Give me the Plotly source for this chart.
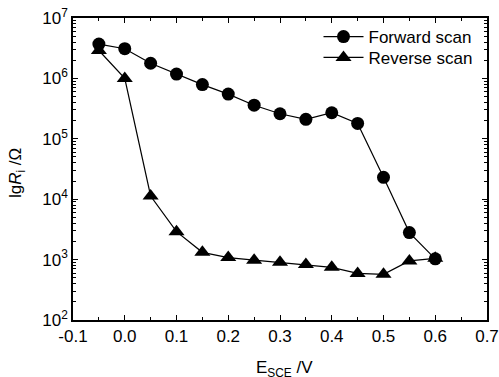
import plotly.graph_objects as go

# Electrode potential vs SCE (V)
potential = [-0.05, 0.0, 0.05, 0.10, 0.15, 0.20, 0.25, 0.30, 0.35, 0.40, 0.45, 0.50, 0.55, 0.60]

# Interfacial resistance (ohm) for the two scan directions
forward_r = [3.7e6, 3.1e6, 1.78e6, 1.18e6, 7.9e5, 5.5e5, 3.6e5, 2.6e5, 2.1e5, 2.7e5, 1.8e5, 2.3e4, 2.8e3, 1.03e3]
reverse_r = [2.9e6, 1.0e6, 1.13e4, 2.9e3, 1.32e3, 1.08e3, 980, 900, 830, 745, 590, 570, 950, 1.05e3]

x_ticks = [-0.1, 0.0, 0.1, 0.2, 0.3, 0.4, 0.5, 0.6, 0.7]
x_tick_text = ["-0.1", "0.0", "0.1", "0.2", "0.3", "0.4", "0.5", "0.6", "0.7"]
y_ticks = [1e2, 1e3, 1e4, 1e5, 1e6, 1e7]
y_tick_text = ["10<sup>2</sup>", "10<sup>3</sup>", "10<sup>4</sup>",
               "10<sup>5</sup>", "10<sup>6</sup>", "10<sup>7</sup>"]

FONT = "Liberation Sans, Arial, sans-serif"

y_minor = [m * 10 ** d for d in range(2, 7) for m in range(2, 10)]
x_minor = [round(-0.05 + 0.1 * i, 2) for i in range(8)]

fig = go.Figure()
fig.add_trace(go.Scatter(
    x=potential, y=forward_r, name="Forward scan", mode="lines+markers",
    line=dict(color="black", width=1.2),
    marker=dict(symbol="circle", size=13, color="black"),
    legend="legend",
))
fig.add_trace(go.Scatter(
    x=potential, y=reverse_r, name="Reverse scan", mode="lines+markers",
    line=dict(color="black", width=1.2),
    marker=dict(symbol="triangle-up", size=14, color="black"),
    legend="legend2",
))

# one single-entry legend per series so the two rows can be spaced freely
legend_style = dict(
    xanchor="left", yanchor="middle", orientation="h",
    entrywidth=160, entrywidthmode="pixels",
    bgcolor="rgba(0,0,0,0)", borderwidth=0,
    font=dict(family=FONT, size=17, color="black"),
    itemwidth=40,
)

fig.update_layout(
    width=499, height=377,
    margin=dict(l=73, r=12, t=18, b=57, autoexpand=False),
    paper_bgcolor="white", plot_bgcolor="white",
    font=dict(family=FONT, size=17, color="black"),
    showlegend=True,
    legend=dict(x=0.593, y=0.937, **legend_style),
    legend2=dict(x=0.593, y=0.868, **legend_style),
    xaxis=dict(
        range=[-0.1, 0.7], tickvals=x_ticks, ticktext=x_tick_text,
        ticks="inside", ticklen=5, tickwidth=1.2, tickcolor="black",
        showline=True, linecolor="black", linewidth=1.5, mirror="ticks",
        showgrid=False, zeroline=False,
        tickfont=dict(family=FONT, size=17, color="black"),
        minor=dict(tickvals=x_minor, ticks="inside", ticklen=3, tickcolor="black", tickwidth=1),
    ),
    yaxis=dict(
        type="log", range=[2, 7], tickvals=y_ticks, ticktext=y_tick_text,
        ticks="inside", ticklen=5, tickwidth=1.2, tickcolor="black",
        showline=True, linecolor="black", linewidth=1.5, mirror="ticks",
        showgrid=False, zeroline=False,
        tickfont=dict(family=FONT, size=17, color="black"),
        minor=dict(tickvals=y_minor, ticks="inside", ticklen=3, tickcolor="black", tickwidth=1),
    ),
    annotations=[
        dict(text="E<sub>SCE</sub> /V", xref="paper", yref="paper",
             x=0.51, y=-0.118, xanchor="center", yanchor="top", showarrow=False,
             font=dict(family=FONT, size=17, color="black")),
        dict(text="lg<i>R</i><sub>i</sub> /Ω", xref="paper", yref="paper",
             x=-0.135, y=0.487, xanchor="center", yanchor="middle", textangle=-90,
             showarrow=False, font=dict(family=FONT, size=17, color="black")),
    ],
)

fig.write_html("out.html")
